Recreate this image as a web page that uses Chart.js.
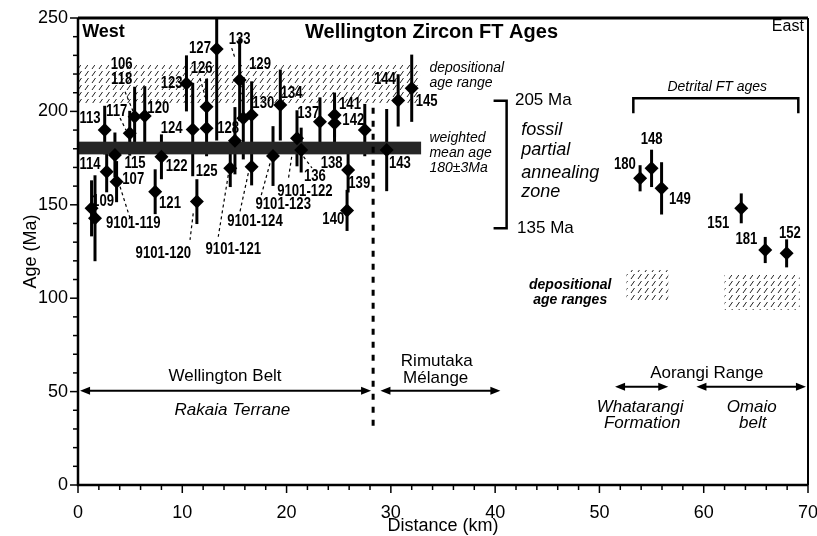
<!DOCTYPE html>
<html><head><meta charset="utf-8">
<script src="https://cdn.jsdelivr.net/npm/chart.js"></script>
<title>Wellington Zircon FT Ages</title>
<style>
html, body { margin: 0; padding: 0; background: #fff; }
</style>
</head>
<body>
<canvas id="chart" width="817" height="536"></canvas>
<script>
// zircon fission track ages along the Wellington - Aorangi transect
// distance (km from west), age (Ma), half length of the error bar (Ma)
const distanceKm = [1.3, 1.63, 2.56, 2.75, 3.54, 3.7, 4.96, 5.43, 6.4, 7.4, 8.0, 10.4, 11.0, 11.4,
  12.33, 12.33, 13.3, 14.6, 15.05, 15.5, 15.85, 16.65, 16.65, 18.7, 19.4, 21.0, 21.4, 23.2,
  24.6, 24.6, 25.9, 25.8, 27.5, 29.6, 30.7, 32.0,
  53.9, 55.0, 55.96, 63.6, 65.9, 67.95];
const ageMa = [148.1, 142.8, 190.0, 167.7, 176.7, 162.4, 188.3, 197.2, 197.5, 157.0, 175.7, 215.0, 190.3, 151.7,
  202.5, 191.0, 233.4, 169.5, 184.3, 216.8, 196.3, 198.1, 170.4, 176.1, 203.4, 185.6, 179.3, 194.5,
  198.1, 193.6, 168.6, 147.0, 190.0, 179.3, 205.9, 212.4,
  164.2, 169.5, 158.8, 148.1, 125.8, 124.0];
const ageErr = [15, 23, 13, 11, 12, 11, 12, 16, 16, 12, 12, 15, 25, 12,
  15, 15, 49, 10, 18, 22, 22, 18, 10, 16, 19, 15, 12, 13,
  12, 12, 12, 11, 14, 22, 14, 18,
  7, 10, 14, 8, 7, 7.5];

// sample labels: text, distance, age
const labelText = ['113', '106', '118', '117', '120', '123', '124', '127', '126', '133', '129', '130', '128',
  '114', '115', '107', '109', '9101-119', '122', '125', '121', '9101-120', '9101-121', '9101-124',
  '9101-123', '9101-122', '136', '138', '139', '140', '134', '137', '141', '142', '144', '145', '143',
  '148', '180', '149', '151', '181', '152'];
const labelKm = [1.15, 4.19, 4.19, 3.71, 7.7, 8.98, 8.98, 11.7, 11.86, 15.5, 17.45, 17.77, 14.4,
  1.15, 5.47, 5.3, 2.4, 5.3, 9.46, 12.34, 8.82, 8.18, 14.89, 16.97,
  19.68, 21.76, 22.72, 24.32, 26.97, 24.48, 20.49, 22.08, 26.08, 26.4, 29.43, 33.43, 30.87,
  55.0, 52.44, 57.72, 61.4, 64.1, 68.26];
const labelMa = [196.3, 224.8, 216.8, 199.8, 201.7, 215.0, 191.0, 233.8, 223.1, 238.2, 224.8, 204.3, 190.9,
  171.3, 171.8, 163.6, 151.7, 140.1, 170.4, 167.7, 150.8, 124.0, 125.8, 141.0,
  149.9, 157.0, 165.0, 172.2, 161.5, 141.9, 209.7, 199.0, 203.8, 194.9, 216.8, 205.2, 171.8,
  184.7, 171.3, 152.6, 140.1, 131.2, 134.7];

// dotted leaders from labels to samples: [km1, Ma1, km2, Ma2]
const leaders = [
  [4.03, 159.7, 4.99, 142.8], [11.05, 145.4, 10.74, 131.2], [14.41, 166.0, 13.45, 132.9],
  [16.33, 166.9, 15.53, 146.3], [18.41, 172.2, 17.45, 152.6], [20.49, 175.7, 20.16, 163.3],
  [21.28, 178.3, 22.44, 169.7], [4.51, 210.5, 5.3, 199.8], [4.03, 196.5, 4.6, 190.0],
  [11.7, 217.7, 12.34, 205.2], [14.74, 233.9, 15.05, 228.6]
];

// depositional age ranges [km from, km to, Ma low, Ma high]
const depoRanges = [[0, 32.8, 204.5, 224.8], [52.6, 56.6, 99.0, 115.1], [62.0, 69.2, 93.7, 112.4]];
// weighted mean age 180 +/- 3 Ma band
const meanBand = [0, 32.9, 177.0, 183.8];

// terrane extents [km from, km to, Ma level]
const terranes = [[0.2, 28.1, 50.5], [29.0, 40.5, 50.5], [51.5, 56.6, 52.6], [59.3, 69.8, 52.6]];

// free text: text, km, Ma, font key, align
const notes = [
  ['West', 0.4, 242.5, 'west', 'left'],
  ['Wellington Zircon FT Ages', 33.9, 242.0, 'title', 'center'],
  ['East', 69.6, 245.2, 'east', 'right'],
  ['depositional', 33.7, 223.2, 'it14', 'left'],
  ['age range', 33.7, 215.2, 'it14', 'left'],
  ['weighted', 33.7, 185.8, 'it14', 'left'],
  ['mean age', 33.7, 177.7, 'it14', 'left'],
  ['180\u00b13Ma', 33.7, 169.7, 'it14', 'left'],
  ['205 Ma', 41.9, 205.7, 'reg17', 'left'],
  ['135 Ma', 42.1, 137.6, 'reg17', 'left'],
  ['fossil', 42.5, 190.0, 'it18', 'left'],
  ['partial', 42.5, 179.3, 'it18', 'left'],
  ['annealing', 42.5, 166.9, 'it18', 'left'],
  ['zone', 42.5, 157.0, 'it18', 'left'],
  ['Detrital FT ages', 61.3, 213.1, 'it14', 'center'],
  ['depositional', 47.2, 107.1, 'bit14', 'center'],
  ['age ranges', 47.2, 99.0, 'bit14', 'center'],
  ['Wellington Belt', 14.1, 58.0, 'reg17', 'center'],
  ['Rakaia Terrane', 14.8, 40.1, 'it17', 'center'],
  ['Rimutaka', 34.4, 66.0, 'reg17', 'center'],
  ['M\u00e9lange', 34.3, 57.1, 'reg17', 'center'],
  ['Aorangi Range', 60.3, 59.8, 'reg17', 'center'],
  ['Whatarangi', 53.9, 41.6, 'it17', 'center'],
  ['Formation', 54.1, 33.0, 'it17', 'center'],
  ['Omaio', 64.6, 41.6, 'it17', 'center'],
  ['belt', 64.7, 33.0, 'it17', 'center']
];

const SANS = '"Liberation Sans", Arial, Helvetica, sans-serif';
const fonts = {
  west: 'bold 18px ' + SANS,
  title: 'bold 20px ' + SANS,
  east: '16px ' + SANS,
  it14: 'italic 14px ' + SANS,
  bit14: 'italic bold 14px ' + SANS,
  reg17: '17px ' + SANS,
  it17: 'italic 17px ' + SANS,
  it18: 'italic 18px ' + SANS,
  lab: 'bold 16px ' + SANS
};
const LABEL_SQUEEZE = 0.82; // sample numbers are set in a condensed face

function hatchPattern(ctx) {
  const c = document.createElement('canvas');
  c.width = 7; c.height = 7;
  const g = c.getContext('2d');
  g.strokeStyle = '#222';
  g.lineWidth = 1;
  g.beginPath();
  g.moveTo(1, 6);
  g.lineTo(4.5, 1);
  g.stroke();
  return ctx.createPattern(c, 'repeat');
}

function arrowHead(ctx, x, y, dir) {
  ctx.beginPath();
  ctx.moveTo(x, y);
  ctx.lineTo(x - dir * 10, y - 4);
  ctx.lineTo(x - dir * 10, y + 4);
  ctx.closePath();
  ctx.fill();
}

const figurePlugin = {
  id: 'figure',
  beforeDatasetsDraw(chart) {
    const ctx = chart.ctx;
    const xs = chart.scales.x, ys = chart.scales.y;
    const px = v => xs.getPixelForValue(v);
    const py = v => ys.getPixelForValue(v);
    const area = chart.chartArea;
    ctx.save();

    // hatched depositional ranges
    ctx.fillStyle = hatchPattern(ctx);
    depoRanges.forEach(r => {
      ctx.fillRect(px(r[0]), py(r[3]), px(r[1]) - px(r[0]), py(r[2]) - py(r[3]));
    });

    // sample labels (drawn under the bars, as in the original)
    ctx.fillStyle = '#000';
    ctx.font = fonts.lab;
    ctx.textAlign = 'center';
    ctx.textBaseline = 'middle';
    labelText.forEach((t, i) => {
      ctx.save();
      ctx.translate(px(labelKm[i]), py(labelMa[i]));
      ctx.scale(LABEL_SQUEEZE, 1);
      ctx.fillText(t, 0, 0);
      ctx.restore();
    });

    // dotted leaders
    ctx.strokeStyle = '#000';
    ctx.lineWidth = 1.2;
    ctx.setLineDash([3, 3]);
    leaders.forEach(l => {
      ctx.beginPath();
      ctx.moveTo(px(l[0]), py(l[1]));
      ctx.lineTo(px(l[2]), py(l[3]));
      ctx.stroke();
    });
    ctx.setLineDash([]);

    // error bars
    ctx.save();
    ctx.beginPath();
    ctx.rect(area.left, area.top, area.right - area.left, area.bottom - area.top);
    ctx.clip();
    ctx.lineWidth = 3;
    distanceKm.forEach((d, i) => {
      ctx.beginPath();
      ctx.moveTo(px(d), py(ageMa[i] - ageErr[i]));
      ctx.lineTo(px(d), py(ageMa[i] + ageErr[i]));
      ctx.stroke();
    });
    ctx.restore();

    // weighted mean band
    ctx.fillStyle = '#262626';
    ctx.fillRect(px(meanBand[0]), py(meanBand[3]), px(meanBand[1]) - px(meanBand[0]), py(meanBand[2]) - py(meanBand[3]));

    // boundary between Wellington Belt and Rimutaka Melange
    ctx.lineWidth = 3;
    ctx.setLineDash([6, 7]);
    ctx.beginPath();
    ctx.moveTo(px(28.3), py(202));
    ctx.lineTo(px(28.3), py(31));
    ctx.stroke();
    ctx.setLineDash([]);

    // fossil partial annealing zone bracket
    ctx.lineWidth = 2.5;
    ctx.beginPath();
    ctx.moveTo(px(39.85), py(205.7));
    ctx.lineTo(px(41.1), py(205.7));
    ctx.lineTo(px(41.1), py(137.4));
    ctx.lineTo(px(39.85), py(137.4));
    ctx.stroke();

    // detrital FT ages bracket
    ctx.beginPath();
    ctx.moveTo(px(53.25), py(199));
    ctx.lineTo(px(53.25), py(207));
    ctx.lineTo(px(69.07), py(207));
    ctx.lineTo(px(69.07), py(199));
    ctx.stroke();

    // terrane arrows
    ctx.lineWidth = 2;
    ctx.fillStyle = '#000';
    terranes.forEach(t => {
      const a = px(t[0]), b = px(t[1]), y = py(t[2]);
      ctx.beginPath();
      ctx.moveTo(a + 4, y);
      ctx.lineTo(b - 4, y);
      ctx.stroke();
      arrowHead(ctx, a, y, -1);
      arrowHead(ctx, b, y, 1);
    });

    // notes
    ctx.textBaseline = 'middle';
    notes.forEach(n => {
      ctx.font = fonts[n[3]];
      ctx.textAlign = n[4];
      ctx.fillText(n[0], px(n[1]), py(n[2]));
    });
    ctx.restore();
  },
  afterDatasetsDraw(chart) {
    const ctx = chart.ctx;
    const xs = chart.scales.x, ys = chart.scales.y;
    const a = chart.chartArea;
    ctx.save();
    ctx.strokeStyle = '#000';
    // frame
    ctx.lineWidth = 2;
    ctx.beginPath();
    ctx.moveTo(a.right, a.top);
    ctx.lineTo(a.right, a.bottom);
    ctx.stroke();
    ctx.lineWidth = 3;
    ctx.beginPath();
    ctx.moveTo(a.left, a.top);
    ctx.lineTo(a.right, a.top);
    ctx.stroke();
    ctx.lineWidth = 2.5;
    ctx.beginPath();
    ctx.moveTo(a.left, a.top);
    ctx.lineTo(a.left, a.bottom);
    ctx.lineTo(a.right, a.bottom);
    ctx.stroke();
    // tick marks, major and minor
    ctx.lineWidth = 1.5;
    for (let v = xs.min; v <= xs.max; v += 2) {
      const x = xs.getPixelForValue(v);
      ctx.beginPath();
      ctx.moveTo(x, a.bottom);
      ctx.lineTo(x, a.bottom + (v % 10 === 0 ? 8 : 5));
      ctx.stroke();
    }
    for (let v = ys.min; v <= ys.max; v += 10) {
      const y = ys.getPixelForValue(v);
      ctx.beginPath();
      ctx.moveTo(a.left, y);
      ctx.lineTo(a.left - (v % 50 === 0 ? 8 : 5), y);
      ctx.stroke();
    }
    ctx.restore();
  }
};

const points = distanceKm.map((d, i) => ({x: d, y: ageMa[i]}));

new Chart(document.getElementById('chart').getContext('2d'), {
  type: 'scatter',
  data: {
    datasets: [{
      data: points,
      pointStyle: 'rectRot',
      pointRadius: 7,
      backgroundColor: '#000',
      borderColor: '#000',
      borderWidth: 0
    }]
  },
  options: {
    responsive: false,
    animation: false,
    events: [],
    layout: {padding: {left: 0, right: 9, top: 18, bottom: 0}},
    plugins: {legend: {display: false}, tooltip: {enabled: false}},
    scales: {
      x: {
        type: 'linear', min: 0, max: 70,
        grid: {display: false, drawTicks: false},
        border: {display: false},
        ticks: {stepSize: 10, padding: 17, maxRotation: 0, color: '#000', font: {family: SANS, size: 18}},
        title: {display: true, text: 'Distance (km)', color: '#000', font: {family: SANS, size: 18, lineHeight: 1.1}, padding: {top: 0, bottom: 0}},
        afterFit: s => { s.height = 51; s.paddingLeft = 0; s.paddingRight = 0; }
      },
      y: {
        type: 'linear', min: 0, max: 250,
        grid: {display: false, drawTicks: false},
        border: {display: false},
        ticks: {stepSize: 50, padding: 10, color: '#000', font: {family: SANS, size: 18}},
        title: {display: true, text: 'Age (Ma)', color: '#000', font: {family: SANS, size: 18}, padding: {top: 20, bottom: 0}},
        afterFit: s => { s.width = 78; s.paddingTop = 0; s.paddingBottom = 0; }
      }
    }
  },
  plugins: [figurePlugin]
});
</script>
</body></html>
